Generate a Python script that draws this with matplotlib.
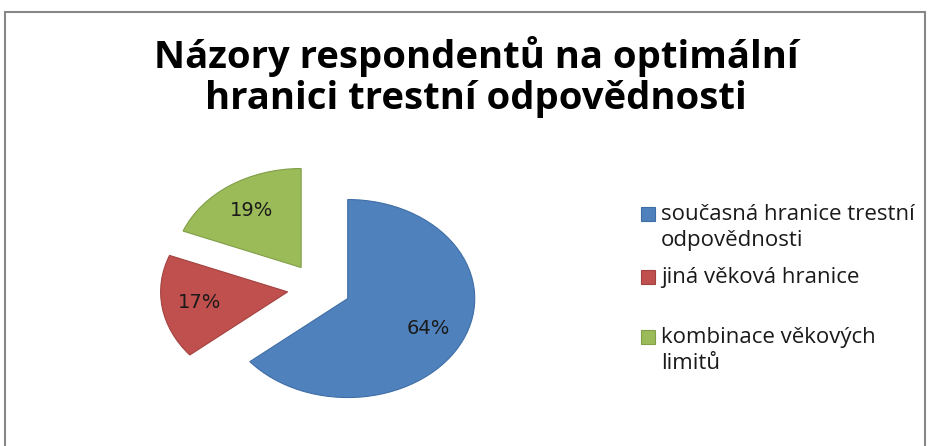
import matplotlib.pyplot as plt
from matplotlib.patches import Rectangle

# data
nazev = "Názory respondentů na optimální\nhranici trestní odpovědnosti"
kategorie = ["současná hranice trestní\nodpovědnosti", "jiná věková hranice", "kombinace věkových\nlimitů"]
podily = [64, 17, 19]
barvy = ["#4F81BD", "#C0504D", "#9BBB59"]
okraje = ["#3F6EA6", "#A24240", "#819E48"]

W, H = 931, 446
fig = plt.figure(figsize=(W / 100, H / 100), dpi=100)

# sedy ramecek kolem grafu
fig.add_artist(Rectangle((4.5 / W, -0.1), 920 / W, 1.1 - 12.5 / H, transform=fig.transFigure,
                         fill=False, edgecolor="#878787", linewidth=1.5))

fig.text(476 / W, 1 - 77 / H, nazev, ha="center", va="center", fontsize=27.5,
         fontweight="bold", family="Open Sans", linespacing=1.12)

# kolac - elipsa (sirsi nez vyssi)
ax = fig.add_axes([128.5 / W, 9.5 / H, 381 / W, 297 / H])
wedges, texts, autotexts = ax.pie(podily, colors=barvy, explode=[0.25] * 3, startangle=90,
                                  counterclock=False, autopct="%.0f%%", pctdistance=0.7,
                                  wedgeprops=dict(linewidth=0.8),
                                  textprops=dict(fontsize=14, color="#1a1a1a", family="DejaVu Sans"))
for w, e in zip(wedges, okraje):
    w.set_edgecolor(e)
ax.set_aspect("auto")
ax.set_xlim(-1.5, 1.5)
ax.set_ylim(-1.5, 1.5)

# legenda
leg_y = [214, 277, 337]
for y, lab, c, e in zip(leg_y, kategorie, barvy, okraje):
    fig.add_artist(Rectangle((641 / W, 1 - (y + 7) / H), 14 / W, 14 / H, facecolor=c,
                             edgecolor=e, linewidth=0.8, transform=fig.transFigure))
    fig.text(661 / W, 1 - (y - 10) / H, lab, ha="left", va="top", fontsize=16,
             family="Open Sans", color="#1a1a1a", linespacing=1.3)

fig.savefig("out.png", dpi=100)
